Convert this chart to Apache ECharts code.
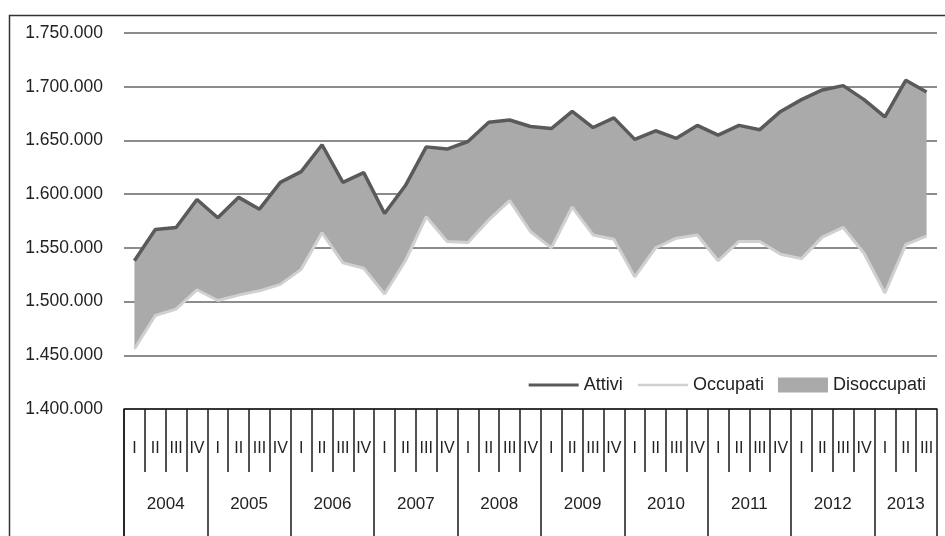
<!DOCTYPE html>
<html>
<head>
<meta charset="utf-8">
<title>Attivi, occupati e disoccupati</title>
<script src="https://cdn.jsdelivr.net/npm/echarts@6/dist/echarts.min.js"></script>
<style>
  html, body { margin: 0; padding: 0; background: #ffffff; }
  #chart { width: 945px; height: 536px; }
</style>
</head>
<body>
<div id="chart"></div>
<script>
// Years shown on the axis and how many quarters each one covers
const years = ['2004', '2005', '2006', '2007', '2008', '2009', '2010', '2011', '2012', '2013'];
const quartersPerYear = [4, 4, 4, 4, 4, 4, 4, 4, 4, 3];
const quarterLabels = ['I', 'II', 'III', 'IV'];

// Labour force (Attivi) and employed (Occupati), quarterly
const attivi = [
  1538000, 1567000, 1569000, 1595000, 1578000, 1597000, 1586000, 1611000, 1621000, 1646000,
  1611000, 1620000, 1582000, 1608000, 1644000, 1642000, 1649000, 1667000, 1669000, 1663000,
  1661000, 1677000, 1662000, 1671000, 1651000, 1659000, 1652000, 1664000, 1655000, 1664000,
  1660000, 1677000, 1688000, 1697000, 1701000, 1688000, 1672000, 1706000, 1695000
];
const occupati = [
  1456000, 1487000, 1493000, 1511000, 1501000, 1506000, 1510000, 1516000, 1530000, 1564000,
  1536000, 1531000, 1507000, 1538000, 1579000, 1556000, 1555000, 1576000, 1594000, 1565000,
  1550000, 1588000, 1562000, 1558000, 1523000, 1550000, 1559000, 1562000, 1538000, 1556000,
  1556000, 1544000, 1540000, 1560000, 1569000, 1545000, 1508000, 1553000, 1561000
];

// Quarter categories, year boundaries and year centres (in quarter units)
const categories = [];
const yearBounds = [0];
const yearCentres = [];
let pos = 0;
years.forEach(function (y, k) {
  for (let q = 0; q < quartersPerYear[k]; q++) categories.push(quarterLabels[q]);
  yearCentres.push(pos + quartersPerYear[k] / 2);
  pos += quartersPerYear[k];
  yearBounds.push(pos);
});
const totalQuarters = pos;

// Gap between labour force and employed = unemployed band
const disoccupati = attivi.map(function (v, i) { return v - occupati[i]; });

function fmtIt(v) {
  return String(v).replace(/\B(?=(\d{3})+(?!\d))/g, '.');
}

const FONT = '"Liberation Sans", Arial, sans-serif';
const chart = echarts.init(document.getElementById('chart'), null, { renderer: 'canvas' });

chart.setOption({
  animation: false,
  backgroundColor: '#ffffff',
  textStyle: { fontFamily: FONT },
  grid: { left: 124, right: 8, top: 33, bottom: 127, containLabel: false },
  legend: {
    right: 14,
    top: 371,
    itemWidth: 50,
    itemHeight: 15,
    itemGap: 14,
    textStyle: { fontFamily: FONT, fontSize: 18, color: '#222222' },
    data: [
      { name: 'Attivi', itemStyle: { opacity: 0 }, lineStyle: { width: 3 } },
      { name: 'Occupati', itemStyle: { opacity: 0 }, lineStyle: { width: 2.5 } },
      { name: 'Disoccupati', icon: 'rect' }
    ]
  },
  xAxis: [
    {
      type: 'category',
      data: categories,
      boundaryGap: true,
      position: 'bottom',
      axisLine: { show: true, lineStyle: { color: '#1a1a1a', width: 1.5 } },
      axisTick: { show: true, interval: 0, alignWithLabel: false, inside: false, length: 63,
                  lineStyle: { color: '#1a1a1a', width: 1.5 } },
      axisLabel: { interval: 0, margin: 32, fontSize: 16, color: '#222222', fontFamily: FONT },
      splitLine: { show: false }
    },
    {
      type: 'value',
      min: 0,
      max: totalQuarters,
      position: 'bottom',
      axisLine: { show: false },
      splitLine: { show: false },
      axisTick: { show: true, length: 127, customValues: yearBounds,
                  lineStyle: { color: '#1a1a1a', width: 1.5 } },
      axisLabel: {
        show: true,
        customValues: yearCentres,
        margin: 87,
        fontSize: 17,
        color: '#222222',
        fontFamily: FONT,
        formatter: function (v) {
          const k = yearCentres.indexOf(v);
          return k >= 0 ? years[k] : '';
        }
      }
    }
  ],
  yAxis: {
    type: 'value',
    min: 1400000,
    max: 1750000,
    interval: 50000,
    axisLine: { show: false },
    axisTick: { show: false },
    axisLabel: { margin: 21, fontSize: 17.5, color: '#222222', fontFamily: FONT, formatter: fmtIt },
    splitLine: { show: true, lineStyle: { color: '#666666', width: 1.5 } }
  },
  series: [
    {
      name: 'Occupati',
      type: 'line',
      stack: 'forza',
      data: occupati,
      symbol: 'none',
      z: 4,
      lineStyle: { color: '#d0d0d0', width: 3 },
      itemStyle: { color: '#d0d0d0' }
    },
    {
      name: 'Disoccupati',
      type: 'line',
      stack: 'forza',
      data: disoccupati,
      symbol: 'none',
      z: 2,
      lineStyle: { width: 0, color: '#aaaaaa' },
      itemStyle: { color: '#aaaaaa' },
      areaStyle: { color: '#aaaaaa', opacity: 1 }
    },
    {
      name: 'Attivi',
      type: 'line',
      data: attivi,
      symbol: 'none',
      z: 5,
      lineStyle: { color: '#5a5a5a', width: 3.5 },
      itemStyle: { color: '#5a5a5a' }
    }
  ],
  graphic: [
    {
      type: 'rect',
      left: 7,
      top: 13,
      shape: { width: 960, height: 560 },
      style: { fill: 'none', stroke: '#333333', lineWidth: 1.5 },
      silent: true
    },
    {
      type: 'line',
      shape: { x1: 124, y1: 409, x2: 124, y2: 540 },
      style: { stroke: '#1a1a1a', lineWidth: 1.5 },
      silent: true
    }
  ]
});
</script>
</body>
</html>
